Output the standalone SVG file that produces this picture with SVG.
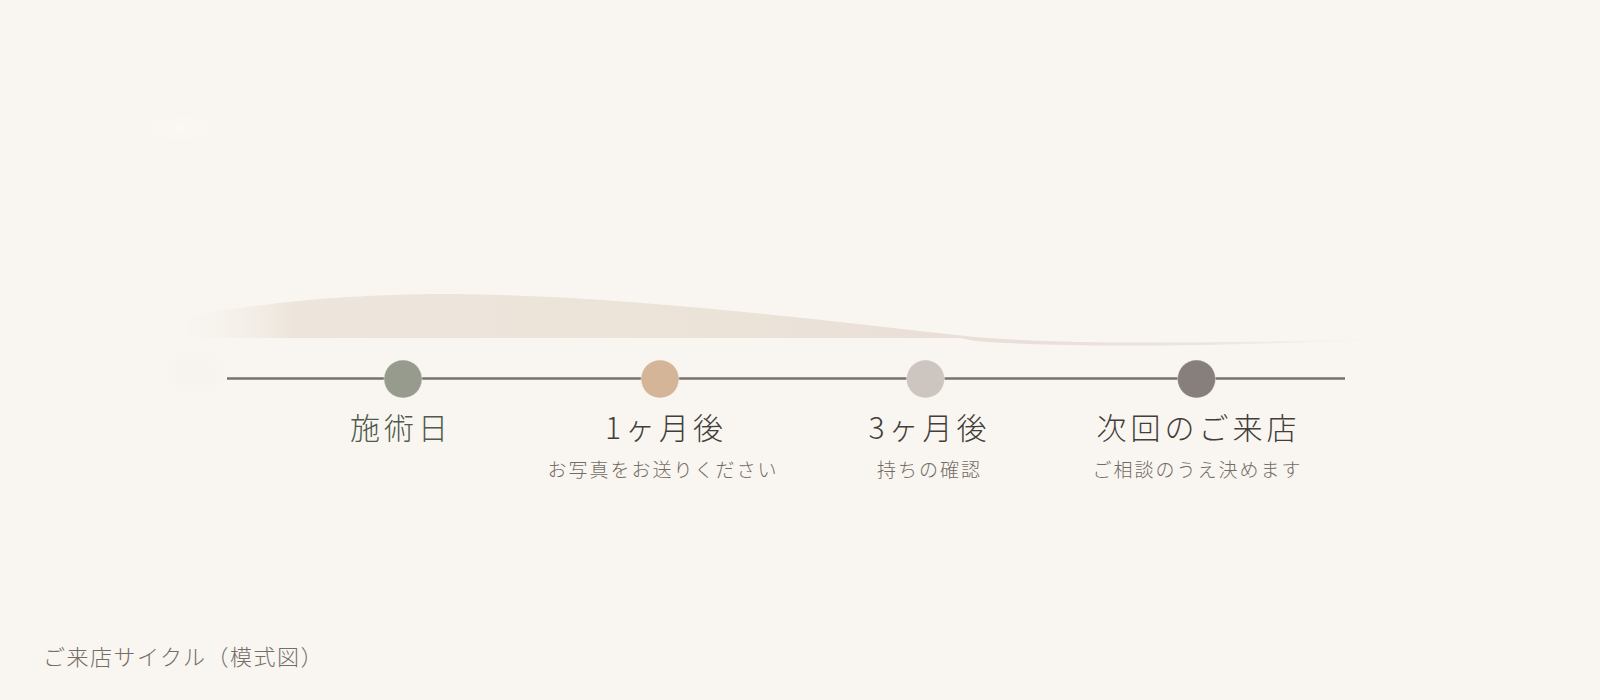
<svg xmlns="http://www.w3.org/2000/svg" width="1600" height="700" viewBox="0 0 1600 700">
  <defs>
    <linearGradient id="waveFill" gradientUnits="userSpaceOnUse" x1="185" y1="0" x2="1390" y2="0">
      <stop offset="0" stop-color="#f7f3ee" stop-opacity="0.3"/>
      <stop offset="0.09" stop-color="#ede5db"/>
      <stop offset="0.45" stop-color="#ebe2d8"/>
      <stop offset="0.68" stop-color="#e9dfd8"/>
      <stop offset="0.85" stop-color="#ece4de"/>
      <stop offset="1" stop-color="#f3eee9" stop-opacity="0"/>
    </linearGradient>
    <radialGradient id="blob" cx="0.5" cy="0.5" r="0.5">
      <stop offset="0" stop-color="#ffffff" stop-opacity="0.25"/>
      <stop offset="1" stop-color="#ffffff" stop-opacity="0"/>
    </radialGradient>
    <radialGradient id="shade" cx="0.5" cy="0.5" r="0.5">
      <stop offset="0" stop-color="#f1ebe4" stop-opacity="0.35"/>
      <stop offset="1" stop-color="#f1ebe4" stop-opacity="0"/>
    </radialGradient>
  </defs>
  <style>
    .title { font-family: "Noto Sans CJK JP", "Noto Sans", sans-serif; font-weight: 300; font-size: 30px; letter-spacing: 4px; text-anchor: middle; fill: #433e3a; }
    .title.first { fill: #505a4a; }
    .sub { font-family: "Noto Sans CJK JP", "Noto Sans", sans-serif; font-weight: 300; font-size: 19px; letter-spacing: 2px; text-anchor: middle; fill: #736b64; }
    .caption { font-family: "Noto Sans CJK JP", "Noto Sans", sans-serif; font-weight: 300; font-size: 22px; letter-spacing: 1.5px; fill: #756d66; }
    .dot { stroke: #ffffff; stroke-opacity: 0.35; stroke-width: 1; }
  </style>

  <rect x="0" y="0" width="1600" height="700" fill="#f9f6f1"/>
  <ellipse cx="180" cy="128" rx="40" ry="16" fill="url(#blob)"/>
  <ellipse cx="195" cy="372" rx="35" ry="25" fill="url(#shade)"/>

  <!-- soft wave band -->
  <path d="M188,338 L188,316 C 270,302 350,294 450,294 C 620,295 800,318 975,337 C 1080,346 1240,342 1390,339 L1390,340 C 1240,345 1080,349 975,341 L 960,338 Z" fill="url(#waveFill)"/>

  <!-- connectors -->
  <g id="connectors">
    <line x1="227" y1="378.5" x2="1345" y2="378.5" stroke="#77726e" stroke-width="2.5"/>
  </g>

  <g id="node-1">
    <circle class="dot" cx="403" cy="379" r="19" fill="#979b8e"/>
    <text class="title first" x="401" y="439">施術日</text>
  </g>
  <g id="node-2">
    <circle class="dot" cx="660" cy="379" r="19" fill="#d5b598"/>
    <text class="title" x="666" y="439">1ヶ月後</text>
    <text class="sub" x="663" y="477">お写真をお送りください</text>
  </g>
  <g id="node-3">
    <circle class="dot" cx="925.5" cy="379" r="19" fill="#cdc5c0"/>
    <text class="title" x="929.5" y="439">3ヶ月後</text>
    <text class="sub" x="929.5" y="477">持ちの確認</text>
  </g>
  <g id="node-4">
    <circle class="dot" cx="1196.5" cy="379" r="19" fill="#877f7c"/>
    <text class="title" x="1198.5" y="439">次回のご来店</text>
    <text class="sub" x="1197.5" y="477">ご相談のうえ決めます</text>
  </g>

  <text class="caption" x="43" y="665">ご来店サイクル（模式図）</text>
</svg>
